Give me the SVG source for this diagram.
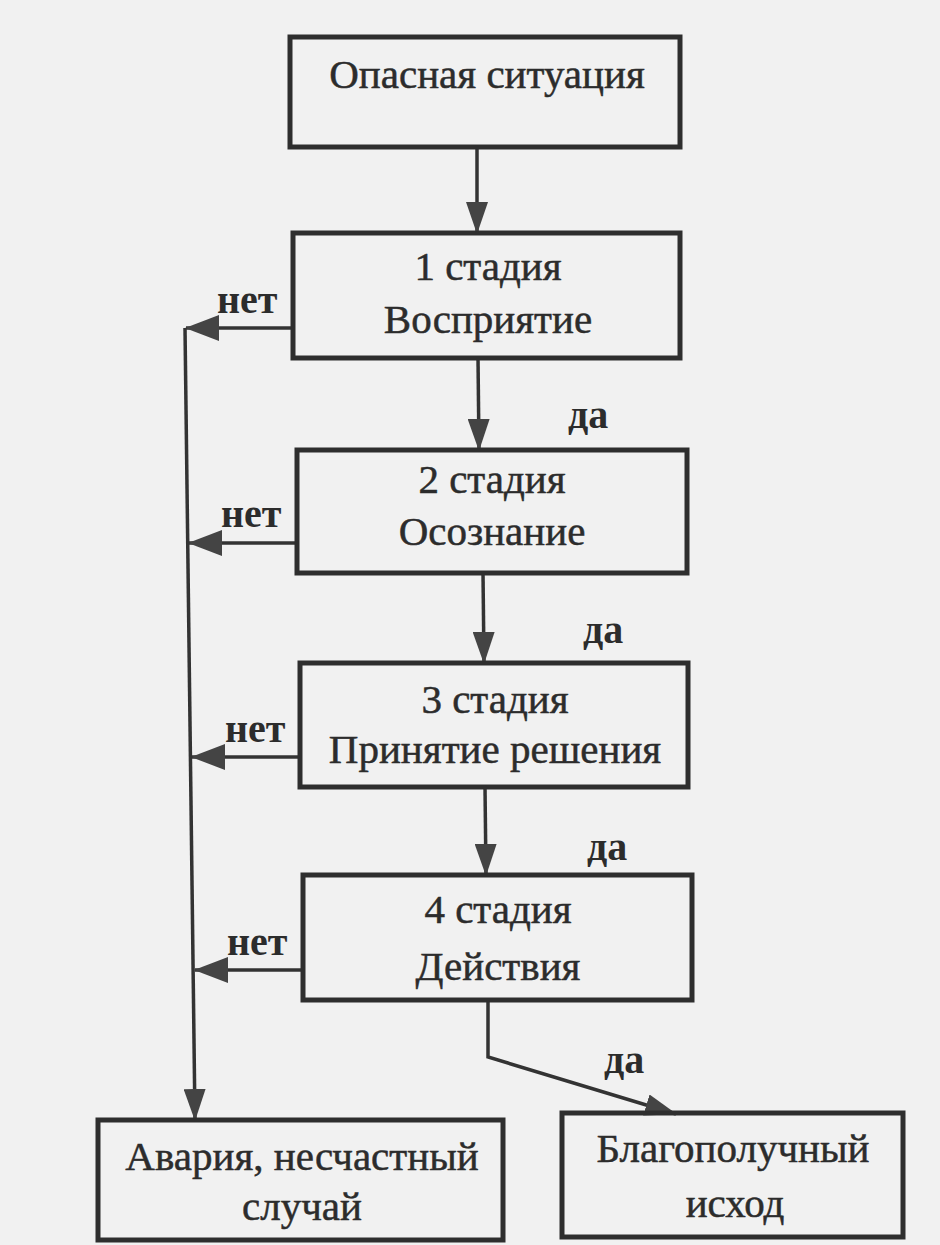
<svg xmlns="http://www.w3.org/2000/svg" width="940" height="1245" viewBox="0 0 940 1245">
<defs>
<style>
.box{fill:none;stroke:#2e2e2e;stroke-width:5}
.t{font-family:"Liberation Serif","Times New Roman",serif;font-size:41px;fill:#2c2c2c;stroke:#2c2c2c;stroke-width:0.5;text-anchor:middle}
.lbl{font-family:"Liberation Serif","Times New Roman",serif;font-size:40px;font-weight:bold;fill:#2c2c2c}
.c{fill:none;stroke:#333;stroke-width:3.5}
</style>
<marker id="ah" markerUnits="userSpaceOnUse" markerWidth="32" markerHeight="22" refX="31" refY="11" orient="auto">
<path d="M0,0 L32,11 L0,22 z" fill="#444"/>
</marker>
<marker id="ahn" markerUnits="userSpaceOnUse" markerWidth="34" markerHeight="26" refX="33" refY="13" orient="auto">
<path d="M0,0 L34,13 L0,26 z" fill="#444"/>
</marker>
</defs>
<rect x="0" y="0" width="940" height="1245" fill="#f1f1f1"/>

<g id="connectors">
<path class="c" d="M477,147 L477,233" marker-end="url(#ah)"/>
<path class="c" d="M478,358 L479,450" marker-end="url(#ah)"/>
<path class="c" d="M483,573 L484,663" marker-end="url(#ah)"/>
<path class="c" d="M485,787 L486,875" marker-end="url(#ah)"/>
<path class="c" d="M293,328 L186,328" marker-end="url(#ahn)"/>
<path class="c" d="M297,543 L189,543" marker-end="url(#ahn)"/>
<path class="c" d="M300,757 L192,757" marker-end="url(#ahn)"/>
<path class="c" d="M303,970 L195,970" marker-end="url(#ahn)"/>
<path class="c" d="M185,328 L195,1120" marker-end="url(#ah)"/>
<path class="c" d="M488,1000 L488,1057 L676,1114" marker-end="url(#ah)"/>
<text class="lbl" x="217" y="313">нет</text>
<text class="lbl" x="221" y="527">нет</text>
<text class="lbl" x="225" y="742">нет</text>
<text class="lbl" x="227" y="955">нет</text>
<text class="lbl" x="568" y="428">да</text>
<text class="lbl" x="583" y="643">да</text>
<text class="lbl" x="587" y="860">да</text>
<text class="lbl" x="604" y="1073">да</text>
</g>

<g id="node-danger">
<rect class="box" x="290" y="37" width="390" height="110"/>
<text class="t" x="487" y="88">Опасная ситуация</text>
</g>

<g id="node-stage1">
<rect class="box" x="293" y="233" width="387" height="125"/>
<text class="t" x="488" y="280">1 стадия</text>
<text class="t" x="488" y="333">Восприятие</text>
</g>

<g id="node-stage2">
<rect class="box" x="297" y="450" width="390" height="123"/>
<text class="t" x="492" y="493">2 стадия</text>
<text class="t" x="492" y="545">Осознание</text>
</g>

<g id="node-stage3">
<rect class="box" x="300" y="663" width="388" height="124"/>
<text class="t" x="495" y="713">3 стадия</text>
<text class="t" x="495" y="763">Принятие решения</text>
</g>

<g id="node-stage4">
<rect class="box" x="303" y="875" width="389" height="125"/>
<text class="t" x="498" y="923">4 стадия</text>
<text class="t" x="498" y="980">Действия</text>
</g>

<g id="node-accident">
<rect class="box" x="98" y="1120" width="405" height="120"/>
<text class="t" x="302" y="1170">Авария, несчастный</text>
<text class="t" x="302" y="1220">случай</text>
</g>

<g id="node-success">
<rect class="box" x="562" y="1113" width="341" height="124"/>
<text class="t" x="733" y="1162">Благополучный</text>
<text class="t" x="735" y="1217">исход</text>
</g>
</svg>
